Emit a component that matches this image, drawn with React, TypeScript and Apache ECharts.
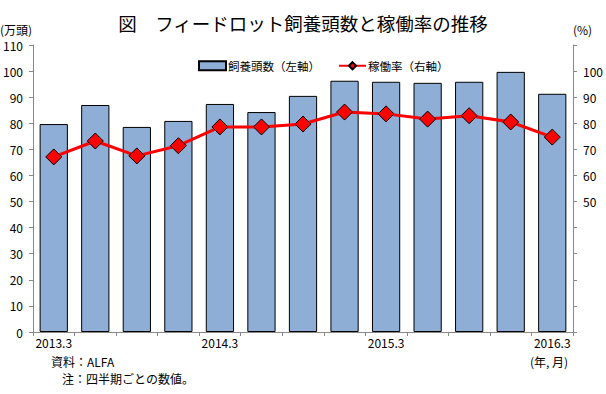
import React, { useEffect, useRef } from "react";
import * as echarts from "echarts";

const categories = ["2013.3", "2013.6", "2013.9", "2013.12", "2014.3", "2014.6", "2014.9", "2014.12", "2015.3", "2015.6", "2015.9", "2015.12", "2016.3"];
const headCounts = [79.7, 87.0, 78.6, 80.9, 87.4, 84.3, 90.5, 96.3, 95.9, 95.5, 95.9, 99.7, 91.3];
const occupancyRates = [67.1, 73.2, 67.5, 71.4, 78.6, 78.6, 79.7, 84.3, 83.6, 81.6, 82.9, 80.5, 74.7];
const seriesNames = ["飼養頭数（左軸）", "稼働率（右軸）"];
const rightLabelValues = [50, 60, 70, 80, 90, 100];

const FONT = "'Noto Sans CJK JP', sans-serif";

export default function App() {
  const ref = useRef<HTMLDivElement>(null);
  useEffect(() => {
    if (!ref.current) return;
    const chart = echarts.init(ref.current, null, { renderer: "svg" });
    chart.setOption({
      animation: false,
      backgroundColor: "#ffffff",
      textStyle: { fontFamily: FONT, color: "#000" },
      title: {
        text: "図　フィードロット飼養頭数と稼働率の推移",
        left: "center",
        top: 9,
        textStyle: { fontFamily: FONT, fontSize: 18.5, fontWeight: "normal", color: "#000" },
      },
      legend: {
        top: 55,
        left: 193,
        itemGap: 18,
        itemWidth: 27,
        itemHeight: 9,
        textStyle: { fontFamily: FONT, fontSize: 11.5, color: "#000", padding: [0, 0, 0, -3] },
        data: [
          { name: seriesNames[0], icon: "rect" },
          { name: seriesNames[1] },
        ],
      },
      grid: { left: 31, right: 31, top: 45, bottom: 62, containLabel: false },
      xAxis: {
        type: "category",
        data: categories,
        boundaryGap: true,
        axisLine: { lineStyle: { color: "#888", width: 1 } },
        axisTick: { show: true, interval: 0, length: 4, lineStyle: { color: "#888" } },
        axisLabel: {
          interval: 3,
          fontSize: 12,
          color: "#000",
          fontFamily: FONT,
          margin: 4,
        },
      },
      yAxis: [
        {
          type: "value",
          min: 0,
          max: 110,
          interval: 10,
          splitLine: { show: false },
          axisLine: { show: true, lineStyle: { color: "#888" } },
          axisTick: { show: true, length: 4, lineStyle: { color: "#888" } },
          axisLabel: { fontSize: 12, color: "#000", fontFamily: FONT, margin: 10 },
        },
        {
          type: "value",
          min: 0,
          max: 110,
          interval: 10,
          position: "right",
          splitLine: { show: false },
          axisLine: { show: true, lineStyle: { color: "#888" } },
          axisTick: { show: true, length: 4, lineStyle: { color: "#888" } },
          axisLabel: {
            fontSize: 12,
            color: "#000",
            fontFamily: FONT,
            margin: 10,
            formatter: (v: number) => (rightLabelValues.includes(v) ? String(v) : ""),
          },
        },
      ],
      series: [
        {
          name: seriesNames[0],
          type: "bar",
          data: headCounts,
          yAxisIndex: 0,
          barWidth: "68%",
          itemStyle: { color: "#8eaed6", borderColor: "#000", borderWidth: 1 },
        },
        {
          name: seriesNames[1],
          type: "line",
          data: occupancyRates,
          yAxisIndex: 1,
          symbol: "diamond",
          symbolSize: 16,
          lineStyle: { color: "#ff0000", width: 3 },
          itemStyle: { color: "#ff0000", borderColor: "#000", borderWidth: 1 },
        },
      ],
      graphic: [
        { type: "text", left: 0, top: 23, style: { text: "(万頭)", fontSize: 12, fontFamily: FONT, fill: "#000" } },
        { type: "text", left: 573, top: 23, style: { text: "(%)", fontSize: 12, fontFamily: FONT, fill: "#000" } },
        { type: "text", left: 530, top: 355, style: { text: "(年, 月)", fontSize: 12, fontFamily: FONT, fill: "#000" } },
        { type: "text", left: 51, top: 355, style: { text: "資料：ALFA", fontSize: 12, fontFamily: FONT, fill: "#000" } },
        { type: "text", left: 62, top: 372, style: { text: "注：四半期ごとの数値。", fontSize: 12, fontFamily: FONT, fill: "#000" } },
      ],
    });
    return () => chart.dispose();
  }, []);
  return <div ref={ref} style={{ position: "fixed", left: 0, top: 0, width: 606, height: 394 }} />;
}
